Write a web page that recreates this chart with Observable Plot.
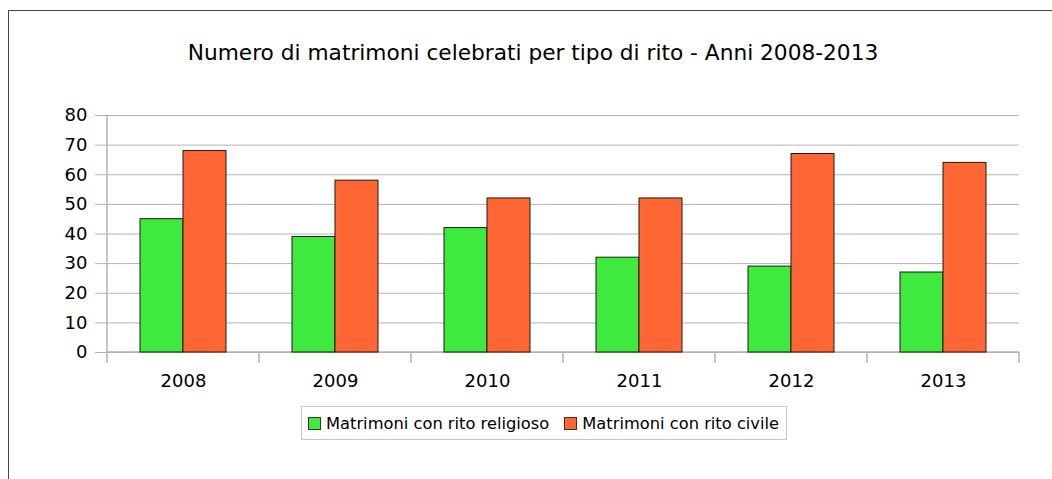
<!DOCTYPE html>
<html>
<head>
<meta charset="utf-8">
<script src="https://cdn.jsdelivr.net/npm/d3@7"></script>
<script src="https://cdn.jsdelivr.net/npm/@observablehq/plot@0.6"></script>
<style>
  html, body { margin: 0; padding: 0; background: #fff; overflow: hidden; }
  #wrap { position: relative; width: 1052px; height: 479px; overflow: hidden; font-family: "DejaVu Sans", sans-serif; }
  #frame { position: absolute; left: 8px; top: 10px; width: 1200px; height: 600px; border: 1.5px solid #444; box-sizing: border-box; }
  #title { position: absolute; left: 6px; width: 1054px; top: 40px; text-align: center; font-size: 21.7px; color: #000; }
  #chart { position: absolute; left: 0; top: 0; }
  #legend { position: absolute; left: 301px; top: 406px; width: 486px; height: 34px; border: 1px solid #c8c8c8; box-sizing: border-box;
            display: flex; align-items: center; justify-content: flex-start; padding-left: 6px; gap: 15px; font-size: 16.3px; background: #fff; }
  .item { display: flex; align-items: center; gap: 5px; }
  .sw { width: 11px; height: 11px; border: 1px solid #333; display: inline-block; }
</style>
</head>
<body>
<div id="wrap">
  <div id="frame"></div>
  <div id="chart"></div>
  <div id="title"></div>
  <div id="legend"></div>
</div>
<script>
const titleText = "Numero di matrimoni celebrati per tipo di rito - Anni 2008-2013";
const years = ["2008", "2009", "2010", "2011", "2012", "2013"];
const seriesNames = ["Matrimoni con rito religioso", "Matrimoni con rito civile"];
const religioso = [45, 39, 42, 32, 29, 27];
const civile = [68, 58, 52, 52, 67, 64];
const yTicks = [0, 10, 20, 30, 40, 50, 60, 70, 80];
const colors = ["#3dea3d", "#ff6633"];

const data = [];
years.forEach((y, i) => {
  data.push({year: y, series: seriesNames[0], value: religioso[i]});
  data.push({year: y, series: seriesNames[1], value: civile[i]});
});

const W = 1052, H = 479;
const plot = Plot.plot({
  width: W,
  height: H,
  marginLeft: 107,
  marginRight: 33,
  marginTop: 115,
  marginBottom: 127,
  style: {fontFamily: "DejaVu Sans, sans-serif", fontSize: "18px", color: "#000", background: "transparent", overflow: "visible"},
  fx: {domain: years, padding: 0, label: null},
  x: {domain: seriesNames, paddingInner: 0, paddingOuter: 0.7273, axis: null},
  y: {domain: [0, 80], ticks: yTicks, label: null},
  color: {domain: seriesNames, range: colors},
  marks: [
    Plot.gridY(yTicks, {stroke: "#b3b3b3", strokeOpacity: 1, strokeWidth: 1}),
    Plot.axisY(yTicks, {anchor: "left", tickSize: 12, stroke: "#b3b3b3", tickPadding: 8, fontSize: 18, fill: "#000", label: null}),
    Plot.axisFx({anchor: "bottom", tickSize: 0, tickPadding: 22, fontSize: 18, label: null}),
    Plot.barY(data, {fx: "year", x: "series", y: "value", fill: "series", stroke: "#1a1a1a", strokeWidth: 1})
  ]
});
document.getElementById("chart").appendChild(plot);

// axis line and category separators drawn from the Plot scales
const fxs = plot.scale("fx");
const ys = plot.scale("y");
const svg = d3.select(plot);
const y0 = ys.apply(0), yTop = ys.apply(80);
const left = fxs.apply(years[0]);
const bw = fxs.bandwidth;
const g = svg.append("g").attr("stroke", "#b3b3b3").attr("stroke-width", 1.5);
g.append("line").attr("x1", left).attr("x2", left).attr("y1", yTop).attr("y2", y0 + 11);
g.append("line").attr("x1", left).attr("x2", left + bw * years.length).attr("y1", y0).attr("y2", y0);
years.forEach((yr, i) => {
  const x = fxs.apply(yr) + bw;
  g.append("line").attr("x1", x).attr("x2", x).attr("y1", y0).attr("y2", y0 + 11);
});
svg.selectAll("g[aria-label='bar']").raise();

document.getElementById("title").textContent = titleText;
const leg = document.getElementById("legend");
seriesNames.forEach((s, i) => {
  const it = document.createElement("span");
  it.className = "item";
  const sw = document.createElement("span");
  sw.className = "sw";
  sw.style.background = colors[i];
  it.appendChild(sw);
  const t = document.createElement("span");
  t.textContent = s;
  it.appendChild(t);
  leg.appendChild(it);
});
</script>
</body>
</html>
